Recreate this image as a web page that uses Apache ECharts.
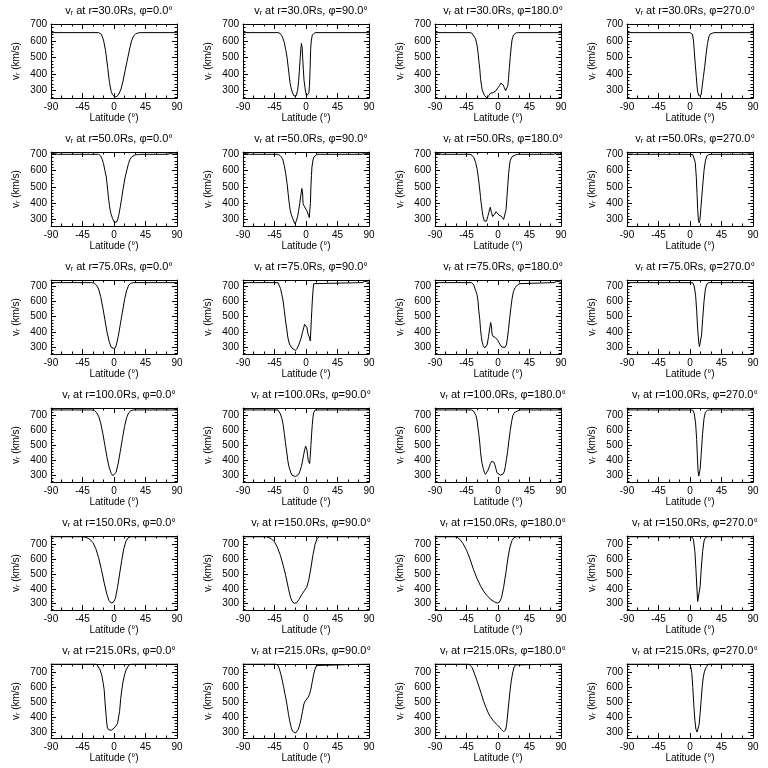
<!DOCTYPE html>
<html>
<head>
<meta charset="utf-8">
<script src="https://cdn.jsdelivr.net/npm/echarts@6/dist/echarts.min.js"></script>
<style>
  html, body { margin: 0; padding: 0; background: #fff; }
  #chart { width: 768px; height: 768px; }
</style>
</head>
<body>
<div id="chart"></div>
<script>
// radii (rows) and longitudes (columns) of the panels
const radii = [30, 50, 75, 100, 150, 215];
const phis = [0, 90, 180, 270];

// axis ticks
const latTicks = [-90, -45, 0, 45, 90];
const latMinor = [-75, -60, -30, -15, 15, 30, 60, 75];
const vTicks = [300, 400, 500, 600, 700];
const vMin = [256, 260, 257, 255, 258, 262];
const vMax = [702, 714, 739, 750, 755, 758];

// [latitude, v_r]
const v30_0 = [[-90,650],[-22,650],[-18,640],[-15,605],[-12,540],[-9,440],[-6.5,350],[-4,295],[-2,275],[1,263],[4,265],[7,280],[10,310],[13,360],[16,423],[19,485],[22,545],[25,600],[28,630],[31,643],[35,649],[40,650],[90,650]];
const v30_90 = [[-90,650],[-40,650],[-37,645],[-34,628],[-31,590],[-29,547],[-27,500],[-25.5,445],[-24,390],[-22.6,343],[-21,310],[-19,286],[-17,268],[-15.5,261],[-14,270],[-12,302],[-10.5,360],[-9.4,424],[-8.2,500],[-7.5,547],[-6.5,585],[-5.5,560],[-4.7,496],[-3.8,430],[-2.8,363],[-1.5,320],[-0.5,291],[1,270],[2.8,265],[4,285],[5,333],[6,450],[6.6,547],[7.5,600],[9,636],[11,648],[13,650],[90,650]];
const v30_180 = [[-90,650],[-40,650],[-37,646],[-34.6,635],[-32,612],[-30,575],[-28.5,530],[-27.5,484],[-26,430],[-25,373],[-23.5,330],[-22.7,307],[-21,288],[-19.4,272],[-17.5,262],[-15.6,255],[-14,262],[-13,272],[-11,285],[-9.5,292],[-7.5,288],[-6,286],[-4,295],[-2.4,307],[0,318],[2.4,332],[4,345],[5.7,352],[7.5,335],[9,318],[11,300],[12.8,292],[14,330],[15,373],[16.3,440],[17.5,505],[19,570],[20,605],[22,635],[23.7,645],[26,649],[29,650],[90,650]];
const v30_270 = [[-90,650],[0,650],[2,648],[3.5,640],[5,600],[6,545],[7.5,460],[9,383],[10,330],[11,292],[13,268],[14.5,262],[16,275],[17,312],[19,380],[21,444],[23,520],[25,585],[27,625],[28.5,640],[31,647],[34,650],[90,650]];

const v50_0 = [[-90,706],[-85,704],[-80,700],[-22,700],[-19,690],[-17,670],[-15,643],[-13,600],[-11,561],[-9.5,500],[-8,439],[-6.5,385],[-5.5,357],[-4,330],[-2,306],[0,285],[1.7,276],[3.5,283],[5,296],[7,330],[9,378],[11,430],[12.7,480],[14.5,525],[16,561],[18.5,605],[20.7,643],[23,670],[25.5,684],[28,692],[30,696],[35,699],[40,700],[75,700],[80,703],[84,708],[87,708],[90,705]];
const v50_90 = [[-90,706],[-85,704],[-80,700],[-40,700],[-37,692],[-33.5,673],[-31,630],[-29,582],[-27,520],[-25.5,459],[-24,400],[-22.6,357],[-21,330],[-19,306],[-17,285],[-15.5,272],[-14,290],[-12,316],[-10.5,355],[-9,398],[-7.5,445],[-6,490],[-5,470],[-4.2,398],[-3,385],[-2,378],[0,362],[2,347],[3.5,325],[4.7,312],[5.6,308],[6.3,400],[7,500],[7.8,570],[8.5,622],[10,665],[11.3,684],[13,695],[16,700],[80,700],[84,707],[87,706],[90,703]];
const v50_180 = [[-90,706],[-85,704],[-80,700],[-40,700],[-37,693],[-34.6,680],[-32,650],[-30,612],[-28,555],[-26.5,500],[-25,440],[-24,398],[-22.5,350],[-21.3,316],[-19.5,290],[-18,278],[-16.5,290],[-14.7,316],[-13,345],[-11,375],[-9.5,345],[-7.6,318],[-6,322],[-4.3,335],[-2.8,348],[-1.4,358],[0,345],[1.4,327],[3,318],[4.7,320],[6.5,310],[8,300],[9.5,297],[10.4,310],[11.5,360],[12.8,439],[14,510],[15.2,582],[16.5,635],[17.5,663],[20,685],[22,694],[27,700],[80,700],[84,708],[88,707],[90,704]];
const v50_270 = [[-90,702],[-80,700],[0,700],[4,698],[6,690],[7.5,650],[9,560],[10,460],[11,360],[12,295],[13,280],[14,295],[15,340],[16.5,420],[18,500],[20,600],[22,660],[24,690],[27,699],[30,700],[80,700],[85,703],[90,700]];

const v75_0 = [[-90,722],[-32,722],[-28,718],[-25,705],[-22,680],[-19,630],[-16,560],[-13,480],[-10,400],[-7,340],[-4,300],[-1.5,288],[1,292],[3,310],[6,370],[9,450],[12,530],[15,610],[18,670],[21,705],[24,718],[28,722],[90,722]];
const v75_90 = [[-90,722],[-40,722],[-38,710],[-36.5,684],[-34.5,645],[-32.7,602],[-31,540],[-29.4,480],[-27.5,420],[-26,367],[-24.5,335],[-23,316],[-21.5,305],[-20,296],[-17.5,287],[-15,280],[-12.5,295],[-10.4,316],[-8.5,340],[-6.6,367],[-5,398],[-3.3,429],[-2,450],[-0.5,462],[0.5,455],[1.4,429],[2.8,388],[4.3,378],[5.3,360],[6,342],[6.8,400],[7.6,480],[8.3,540],[9,602],[10,670],[11,715],[12,722],[80,722],[84,730],[87,728],[90,724]];
const v75_180 = [[-90,722],[-38,722],[-35,710],[-33,684],[-31.5,665],[-30,643],[-28.5,600],[-27.5,541],[-26,480],[-25,418],[-23.8,370],[-22.7,337],[-21,312],[-19,296],[-17.5,300],[-15.6,316],[-13.5,370],[-12,420],[-10.5,462],[-9.5,440],[-8.5,388],[-7.2,372],[-6,367],[-4,365],[-2,355],[-0.5,347],[1.5,330],[3.3,316],[5.5,302],[8,296],[10,300],[12,316],[13.5,360],[15,418],[16.7,490],[18.5,561],[20,615],[22,663],[24.5,690],[27,700],[30,715],[32,722],[80,722],[84,730],[87,729],[90,724]];
const v75_270 = [[-90,722],[0,722],[4,720],[6,700],[8,640],[9.5,540],[11,420],[12.5,330],[13.5,305],[15,315],[16.5,380],[18,480],[20,600],[22,680],[24,712],[27,722],[90,722]];

const v100_0 = [[-90,737],[-32,737],[-28,733],[-25,720],[-22,695],[-19,650],[-16,580],[-13,500],[-10,420],[-7,355],[-4,312],[-1.5,297],[1,300],[3,320],[6,380],[9,460],[12,545],[15,625],[18,685],[21,718],[24,732],[28,737],[90,737]];
const v100_90 = [[-90,737],[-40,737],[-38,728],[-36.5,710],[-34.5,680],[-32.7,640],[-31,580],[-29.4,519],[-27.5,455],[-26,398],[-24.5,360],[-23,337],[-21.5,316],[-20,301],[-17.5,294],[-15,291],[-12.5,297],[-10.4,307],[-8.5,330],[-6.6,358],[-5,395],[-3.3,438],[-2,470],[-0.5,495],[0.5,490],[1.4,469],[2.4,430],[3.3,398],[4.2,385],[5.2,378],[6,420],[7,499],[8,575],[9,640],[10,690],[11,720],[13,737],[90,737]];
const v100_180 = [[-90,737],[-38,737],[-35,730],[-33,720],[-31.5,700],[-30,670],[-28.8,625],[-27.5,579],[-26,515],[-25,458],[-23.8,410],[-22.7,377],[-21,345],[-19.5,320],[-18,306],[-16.5,315],[-14.7,330],[-13,350],[-11,377],[-9,393],[-7.6,397],[-6,388],[-4.7,373],[-3,345],[-1.4,317],[1,305],[3.3,301],[5,303],[7,307],[9,325],[10.4,357],[12,405],[13.7,458],[15.5,530],[17.5,600],[19.5,660],[21.3,701],[23.5,720],[26,731],[31,737],[90,737]];
const v100_270 = [[-90,737],[0,737],[4,735],[6,715],[8,650],[9.5,540],[10.5,430],[11.5,330],[12.5,295],[13.5,300],[14.5,340],[16,440],[18,580],[20,680],[22,722],[25,735],[28,737],[90,737]];

const v150_0 = [[-90,750],[-45,750],[-40,746],[-35,735],[-30,710],[-26,670],[-22,610],[-18,530],[-14,440],[-10,360],[-7,320],[-4,305],[-1,310],[2,335],[5,410],[8,500],[11,590],[14,670],[17,720],[20,742],[24,750],[90,750]];
const v150_90 = [[-90,750],[-57,750],[-53,745],[-49,735],[-45,715],[-41,680],[-37,630],[-33,565],[-29,490],[-25,400],[-22,340],[-19,310],[-16,303],[-13,308],[-10,330],[-6,362],[-2,390],[1,410],[4,460],[7,540],[10,630],[13,700],[16,738],[19,750],[90,750]];
const v150_180 = [[-90,750],[-62,750],[-58,745],[-54,730],[-50,705],[-45,660],[-40,600],[-35,530],[-30,470],[-25,420],[-20,380],[-15,350],[-10,328],[-5,312],[-1,305],[2,310],[5,340],[8,410],[11,500],[14,600],[17,680],[20,725],[23,745],[27,750],[90,750]];
const v150_270 = [[-90,750],[0,750],[3,748],[5,730],[7,650],[8.5,530],[10,390],[11,315],[12,302],[13,320],[14.5,420],[16,530],[18,650],[20,720],[22,745],[25,750],[90,750]];

const v215_0 = [[-90,758],[-25,758],[-23,745],[-20,720],[-17.4,681],[-15.5,630],[-14,585],[-12.8,500],[-11.6,431],[-10.5,370],[-9.6,335],[-8,318],[-6.4,311],[-4,313],[-2,319],[0,328],[3,344],[5,360],[6.4,373],[8,440],[9.6,527],[11.3,590],[13,642],[15,685],[17.4,719],[19.5,738],[22,752],[25,758],[90,758]];
const v215_90 = [[-90,758],[-43,758],[-40,748],[-38,725],[-36,690],[-34,650],[-32,605],[-30,555],[-28.5,520],[-27,480],[-25,420],[-23,370],[-21,330],[-19,306],[-17,296],[-15,295],[-13,303],[-11,320],[-9,350],[-7,390],[-5,440],[-3,490],[-1,510],[1,520],[3,535],[5,555],[7,590],[9,640],[11,690],[13,725],[15,748],[17,758],[90,758]];
const v215_180 = [[-90,758],[-42,758],[-40,752],[-37,735],[-33.4,690],[-30,645],[-27,604],[-24,560],[-20.6,508],[-17,465],[-14,431],[-11,405],[-7.7,383],[-4.5,365],[-1,350],[2,335],[5,318],[8,305],[9.5,302],[11,315],[12.5,360],[14,430],[15.5,500],[17,570],[18.5,630],[20,675],[21.5,710],[23,738],[25,752],[27,758],[90,758]];
const v215_270 = [[-90,758],[-1,758],[1,740],[2.5,700],[4,600],[5.5,480],[7,380],[8.5,320],[10,302],[11.5,308],[13,350],[14.5,430],[16,520],[17.5,610],[19,670],[20.5,705],[22,725],[24,742],[26,758],[90,758]];

const curves = [
  [v30_0, v30_90, v30_180, v30_270],
  [v50_0, v50_90, v50_180, v50_270],
  [v75_0, v75_90, v75_180, v75_270],
  [v100_0, v100_90, v100_180, v100_270],
  [v150_0, v150_90, v150_180, v150_270],
  [v215_0, v215_90, v215_180, v215_270]
];

const chart = echarts.init(document.getElementById('chart'));
const font = 'Liberation Sans';
const ink = '#000';

const grid = [], title = [], xAxis = [], yAxis = [], series = [];

function minorValues(lo, hi) {
  const out = [];
  for (let v = Math.ceil(lo / 20) * 20; v <= hi; v += 20) {
    if (v % 100 !== 0) out.push(v);
  }
  return out;
}

radii.forEach((r, i) => {
  phis.forEach((p, j) => {
    const g = grid.length;
    const left = 192 * j + 51;
    const top = 128 * i + 24;
    grid.push({ left: left, top: top, width: 126, height: 74 });

    title.push({
      text: '{a|v}{s|r}{a| at r=' + r.toFixed(1) + 'Rs, \u03c6=' + p.toFixed(1) + '\u00b0}',
      left: left + 63,
      top: 128 * i - 1,
      textAlign: 'center',
      textStyle: {
        fontWeight: 'normal',
        rich: {
          a: { fontFamily: font, fontSize: 11, fontWeight: 'normal', color: ink },
          s: { fontFamily: font, fontSize: 7, fontWeight: 'normal', color: ink, padding: [6, 0, 0, 0] }
        }
      }
    });

    const xBase = {
      gridIndex: g, type: 'value', min: -90, max: 90,
      splitLine: { show: false }
    };
    // bottom axis with labels
    xAxis.push(Object.assign({}, xBase, {
      position: 'bottom',
      axisLine: { show: true, onZero: false, lineStyle: { color: ink, width: 1 } },
      axisTick: { show: true, inside: true, length: 5, customValues: latTicks, lineStyle: { color: ink } },
      axisLabel: { show: true, customValues: latTicks, color: ink, fontFamily: font, fontSize: 10, margin: 4 },
      name: 'Latitude (\u00b0)', nameLocation: 'middle', nameGap: 15,
      nameTextStyle: { color: ink, fontFamily: font, fontSize: 10 }
    }));
    xAxis.push(Object.assign({}, xBase, {
      position: 'bottom',
      axisLine: { show: false, onZero: false },
      axisTick: { show: true, inside: true, length: 2.5, customValues: latMinor, lineStyle: { color: ink } },
      axisLabel: { show: false }
    }));
    xAxis.push(Object.assign({}, xBase, {
      position: 'top',
      axisLine: { show: true, onZero: false, lineStyle: { color: ink, width: 1 } },
      axisTick: { show: true, inside: true, length: 5, customValues: latTicks, lineStyle: { color: ink } },
      axisLabel: { show: false }
    }));
    xAxis.push(Object.assign({}, xBase, {
      position: 'top',
      axisLine: { show: false, onZero: false },
      axisTick: { show: true, inside: true, length: 2.5, customValues: latMinor, lineStyle: { color: ink } },
      axisLabel: { show: false }
    }));

    const yBase = {
      gridIndex: g, type: 'value', min: vMin[i], max: vMax[i],
      splitLine: { show: false }
    };
    const yMinor = minorValues(vMin[i], vMax[i]);
    yAxis.push(Object.assign({}, yBase, {
      position: 'left',
      axisLine: { show: true, onZero: false, lineStyle: { color: ink, width: 1 } },
      axisTick: { show: true, inside: true, length: 5, customValues: vTicks, lineStyle: { color: ink } },
      axisLabel: { show: true, customValues: vTicks, color: ink, fontFamily: font, fontSize: 10, margin: 4 },
      name: '{a|v}{s|r}{a| (km/s)}', nameLocation: 'middle', nameGap: 29,
      nameTextStyle: {
        rich: {
          a: { fontFamily: font, fontSize: 10, color: ink },
          s: { fontFamily: font, fontSize: 7, color: ink, padding: [5, 0, 0, 0] }
        }
      }
    }));
    yAxis.push(Object.assign({}, yBase, {
      position: 'left',
      axisLine: { show: false, onZero: false },
      axisTick: { show: true, inside: true, length: 2.5, customValues: yMinor, lineStyle: { color: ink } },
      axisLabel: { show: false }
    }));
    yAxis.push(Object.assign({}, yBase, {
      position: 'right',
      axisLine: { show: true, onZero: false, lineStyle: { color: ink, width: 1 } },
      axisTick: { show: true, inside: true, length: 5, customValues: vTicks, lineStyle: { color: ink } },
      axisLabel: { show: false }
    }));
    yAxis.push(Object.assign({}, yBase, {
      position: 'right',
      axisLine: { show: false, onZero: false },
      axisTick: { show: true, inside: true, length: 2.5, customValues: yMinor, lineStyle: { color: ink } },
      axisLabel: { show: false }
    }));

    series.push({
      type: 'line',
      xAxisIndex: g * 4,
      yAxisIndex: g * 4,
      data: curves[i][j],
      showSymbol: false,
      symbol: 'none',
      clip: true,
      lineStyle: { color: ink, width: 1 },
      silent: true
    });
  });
});

chart.setOption({
  backgroundColor: '#fff',
  animation: false,
  title: title,
  grid: grid,
  xAxis: xAxis,
  yAxis: yAxis,
  series: series
});
</script>
</body>
</html>
